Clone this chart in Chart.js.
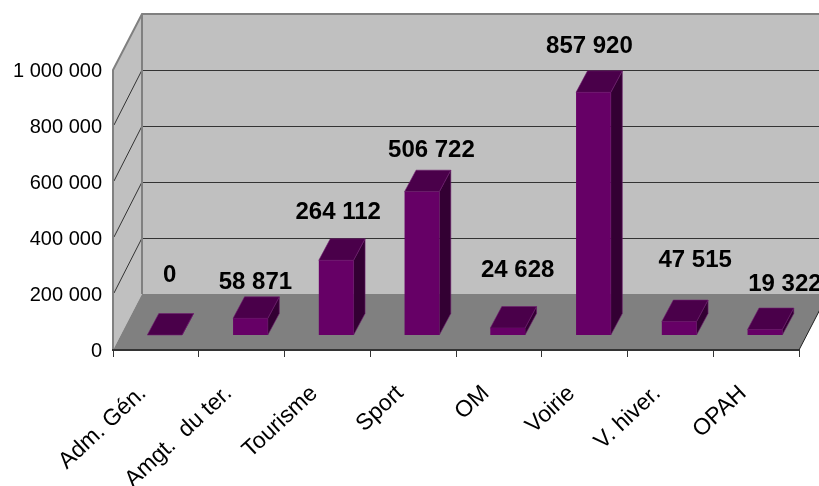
<!DOCTYPE html>
<html lang="fr">
<head>
  <meta charset="UTF-8" />
  <title>Montants par secteur</title>
  <script src="https://cdn.jsdelivr.net/npm/chart.js"></script>
  <style>
    body { margin: 0; background: #fff; }
    canvas { display: block; }
  </style>
</head>
<body>
  <canvas id="myChart" width="819" height="486"></canvas>

  <script>
    const categories = ['Adm. Gén.', 'Amgt.  du ter.', 'Tourisme', 'Sport', 'OM', 'Voirie', 'V. hiver.', 'OPAH'];
    const amounts = [0, 58871, 264112, 506722, 24628, 857920, 47515, 19322];
    const yTicks = [0, 200000, 400000, 600000, 800000, 1000000];

    // depth of the walls and of the bars, in px
    const wallDepth = { x: 29, y: 56 };
    const barShift = { x: 8.8, y: -15 };
    const barDepth = { x: 11.5, y: 21.5 };

    // labels were moved by hand in the original, [dx, dy] from the top of the bar
    const labelNudge = [[5, -53], [5, -29], [2, -41], [9.5, -35], [10, -51], [-4, -39], [16, -55], [20, -39]];

    const fmt = v => String(v).replace(/\B(?=(\d{3})+$)/g, ' ');

    const walls3d = {
      id: 'walls3d',
      beforeDraw(chart) {
        const { ctx, chartArea: a } = chart;
        const y = chart.scales.y;
        const dx = wallDepth.x, dy = wallDepth.y;
        const top = y.getPixelForValue(1000000);
        const w = chart.width + 40;
        ctx.save();
        // back wall + side wall
        ctx.fillStyle = '#c0c0c0';
        ctx.fillRect(a.left + dx, top - dy, w, a.bottom - top);
        ctx.beginPath();
        ctx.moveTo(a.left, top);
        ctx.lineTo(a.left + dx, top - dy);
        ctx.lineTo(a.left + dx, a.bottom - dy);
        ctx.lineTo(a.left, a.bottom);
        ctx.closePath();
        ctx.fill();
        // floor
        ctx.fillStyle = '#808080';
        ctx.beginPath();
        ctx.moveTo(a.left, a.bottom);
        ctx.lineTo(a.left + dx, a.bottom - dy);
        ctx.lineTo(a.right + dx, a.bottom - dy);
        ctx.lineTo(a.right, a.bottom);
        ctx.closePath();
        ctx.fill();
        ctx.strokeStyle = '#222';
        ctx.lineWidth = 1;
        ctx.beginPath();
        ctx.moveTo(a.right, a.bottom);
        ctx.lineTo(a.right + dx, a.bottom - dy);
        ctx.stroke();
        // grid lines
        yTicks.slice(1, -1).forEach(v => {
          const py = y.getPixelForValue(v);
          ctx.strokeStyle = '#333';
          ctx.beginPath();
          ctx.moveTo(a.left + 1, py - 1);
          ctx.lineTo(a.left + dx, py - dy);
          ctx.moveTo(a.left + dx, py - dy + 0.5);
          ctx.lineTo(w, py - dy + 0.5);
          ctx.stroke();
        });
        ctx.beginPath();
        ctx.moveTo(a.left + dx, top - dy + 0.5);
        ctx.lineTo(w, top - dy + 0.5);
        ctx.strokeStyle = '#333';
        ctx.stroke();
        // wall outline
        ctx.strokeStyle = '#808080';
        ctx.lineWidth = 2;
        ctx.beginPath();
        ctx.moveTo(a.left, a.bottom);
        ctx.lineTo(a.left, top);
        ctx.lineTo(a.left + dx, top - dy);
        ctx.lineTo(w, top - dy);
        ctx.moveTo(a.left + dx, top - dy);
        ctx.lineTo(a.left + dx, a.bottom - dy);
        ctx.stroke();
        ctx.restore();
      },
      beforeDatasetDraw(chart, args) {
        const ctx = chart.ctx;
        ctx.save();
        ctx.translate(barShift.x, barShift.y);
        // side and top faces go under the front face
        args.meta.data.forEach(bar => {
          const l = bar.x - bar.width / 2, r = bar.x + bar.width / 2;
          const dx = barDepth.x, dy = barDepth.y;
          ctx.strokeStyle = '#6f1f6f';
          ctx.lineWidth = 0.6;
          ctx.fillStyle = '#330033';
          ctx.beginPath();
          ctx.moveTo(r, bar.y);
          ctx.lineTo(r + dx, bar.y - dy);
          ctx.lineTo(r + dx, bar.base - dy);
          ctx.lineTo(r, bar.base);
          ctx.closePath();
          ctx.fill();
          ctx.stroke();
          ctx.fillStyle = '#4a004a';
          ctx.beginPath();
          ctx.moveTo(l, bar.y);
          ctx.lineTo(l + dx, bar.y - dy);
          ctx.lineTo(r + dx, bar.y - dy);
          ctx.lineTo(r, bar.y);
          ctx.closePath();
          ctx.fill();
          ctx.stroke();
        });
      },
      afterDatasetDraw(chart) {
        chart.ctx.restore();
      },
      afterDatasetsDraw(chart) {
        const ctx = chart.ctx;
        const bars = chart.getDatasetMeta(0).data;
        ctx.save();
        ctx.font = 'bold 24px "Liberation Sans", Arial, sans-serif';
        ctx.fillStyle = '#000';
        ctx.textAlign = 'center';
        ctx.textBaseline = 'alphabetic';
        bars.forEach((bar, i) => {
          ctx.fillText(fmt(amounts[i]), bar.x + barShift.x + labelNudge[i][0], bar.y + barShift.y + labelNudge[i][1]);
        });
        ctx.restore();
      }
    };

    const font = { family: '"Liberation Sans", Arial, sans-serif', size: 20 };

    new Chart(document.getElementById('myChart'), {
      type: 'bar',
      data: {
        labels: categories,
        datasets: [{
          data: amounts,
          yAxisID: 'barY',
          backgroundColor: '#660066',
          borderColor: '#6f1f6f',
          borderWidth: 0,
          barPercentage: 0.405,
          categoryPercentage: 1,
          clip: false
        }]
      },
      options: {
        responsive: false,
        animation: false,
        layout: { padding: { top: 70, right: 20 } },
        plugins: { legend: { display: false }, tooltip: { enabled: false } },
        scales: {
          x: {
            afterFit: s => { s.height = 136; },
            grid: { offset: true, drawOnChartArea: false, tickLength: 7, color: '#333' },
            border: { color: '#333', width: 2 },
            ticks: { font: { ...font, size: 23 }, color: '#000', minRotation: 43, maxRotation: 43, autoSkip: false, padding: 23, labelOffset: -13 }
          },
          y: {
            min: 0,
            max: 1000000,
            afterFit: s => { s.width = 113; },
            afterBuildTicks: s => { s.ticks = yTicks.map(v => ({ value: v })); },
            grid: { display: false, drawTicks: false },
            border: { display: false },
            ticks: { font, color: '#000', padding: 11, labelOffset: 1, callback: v => fmt(v) }
          },
          // the original bars run a little taller than the drawn axis
          barY: { display: false, min: 0, max: 990000 }
        }
      },
      plugins: [walls3d]
    });
  </script>
</body>
</html>
